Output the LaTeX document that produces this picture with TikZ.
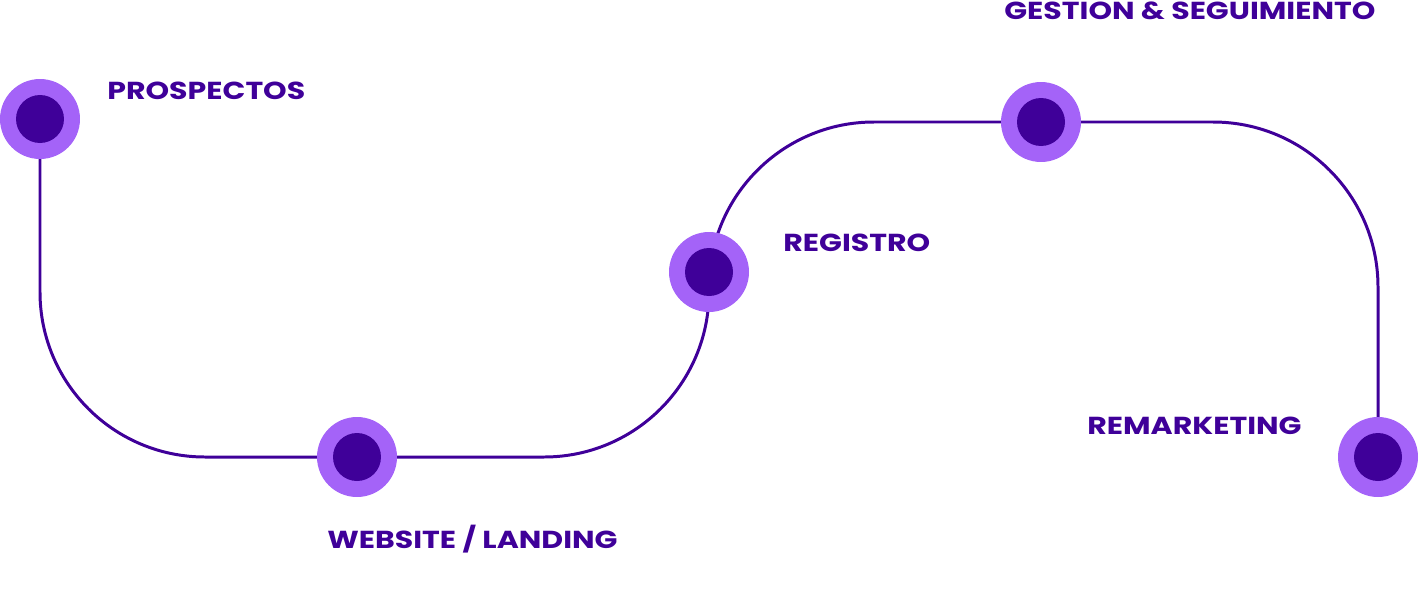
\documentclass[tikz,border=0pt]{standalone}
\usepackage{fontspec}
\setmainfont{Poppins}
\newfontfamily\stopfont[FakeStretch=1.22]{Poppins}
\definecolor{darkviolet}{HTML}{3F0099}
\definecolor{lightviolet}{HTML}{A463F8}
\begin{document}
\begin{tikzpicture}[x=0.02cm,y=-0.02cm]
\tikzstyle{track}=[draw=darkviolet, line width=1.7pt, rounded corners=3.3cm]
\tikzstyle{stop}=[circle, fill=lightviolet, minimum size=1.6cm, inner sep=0pt]
\tikzstyle{core}=[circle, fill=darkviolet, minimum size=0.96cm, inner sep=0pt]
\tikzstyle{label}=[text=darkviolet, font=\stopfont\bfseries\fontsize{14}{14}\selectfont, inner sep=0pt]
\useasboundingbox (0,0) rectangle (1420,609);

% Track
\draw[track] (40,119) -- (40,457) -- (709,457) -- (709,122) -- (1378,122) -- (1378,457);

% Stops
\foreach \name/\x/\y in {prospectos/40/119, website/357/457, registro/709/272, gestion/1041/122, remarketing/1378/457} {
  \node[stop] (\name) at (\x,\y) {};
  \node[core] at (\name) {};
}

% Labels
\node[label, anchor=west] (lprospectos) at (107,91) {PROSPECTOS};
\node[label, anchor=west] (lwebsite) at (327,539) {WEBSITE / LANDING};
\node[label, anchor=west] (lregistro) at (783,243) {REGISTRO};
\node[label, anchor=west] (lgestion) at (1004,11) {GESTION \& SEGUIMIENTO};
\node[label, anchor=west] (lremarketing) at (1087,426) {REMARKETING};
\end{tikzpicture}
\end{document}
